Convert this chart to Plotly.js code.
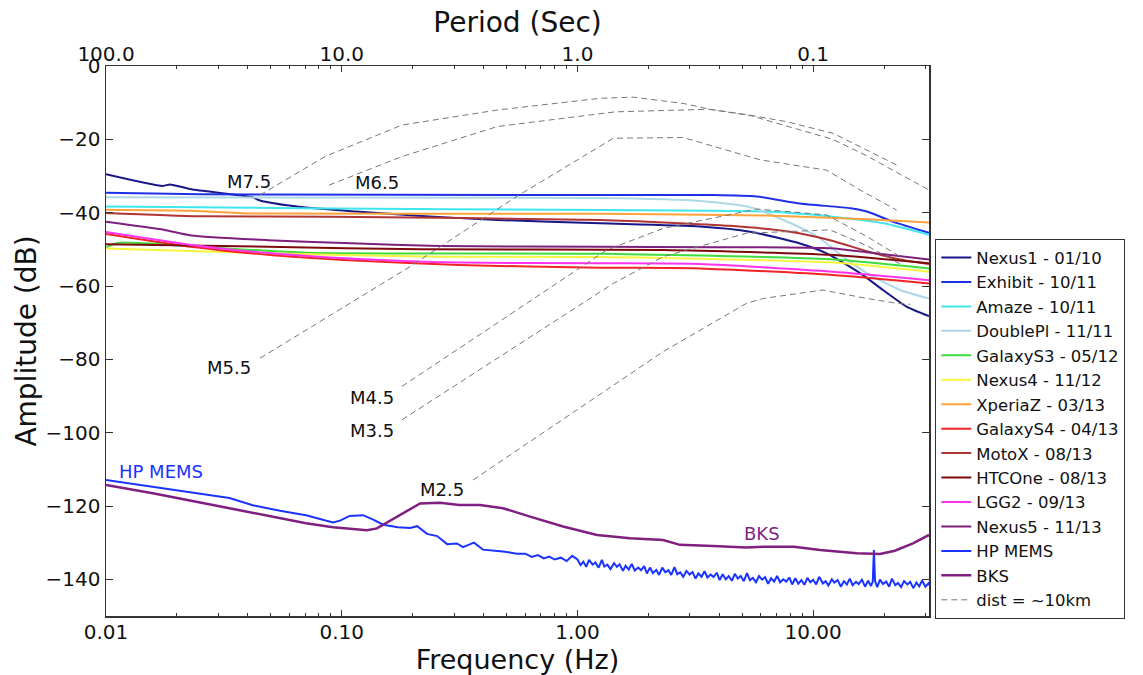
<!DOCTYPE html>
<html>
<head>
<meta charset="utf-8">
<script src="https://cdn.plot.ly/plotly-3.0.1.min.js"></script>
<style>html,body{margin:0;padding:0;background:#fff;}#chart{width:1143px;height:675px;}</style>
</head>
<body>
<div id="chart"></div>
<script>
// ---------------- data ----------------
const freqTicks = [0.01, 0.1, 1, 10];
const freqTickLabels = ['0.01', '0.10', '1.00', '10.00'];
const periodTicks = [100, 10, 1, 0.1];
const periodTickLabels = ['100.0', '10.0', '1.0', '0.1'];
const ampTicks = [0, -20, -40, -60, -80, -100, -120, -140];

const nexus1Freq = [0.01, 0.0174, 0.0187, 0.0230, 0.0419, 0.0450, 0.0656, 0.115, 0.217, 0.458, 1.25, 3.31, 5.40, 8.79, 11.4, 15.8, 19.8, 24.9, 31.0];
const nexus1Db   = [-29.5, -32.7, -32.3, -33.6, -35.8, -36.7, -38.4, -39.7, -40.9, -42.0, -42.9, -43.8, -45.2, -48.4, -51.1, -56.5, -61.1, -65.6, -68.2];

const exhibitFreq = [0.01, 0.0251, 1.25, 3.76, 5.77, 8.79, 14.4, 16.9, 21.9, 31.0];
const exhibitDb   = [-34.6, -35.0, -35.2, -35.2, -35.6, -37.5, -38.8, -39.7, -42.5, -45.5];

const amazeFreq = [0.01, 0.0665, 1.25, 6.36, 12.1, 19.9, 31.0];
const amazeDb   = [-38.3, -38.8, -39.3, -39.7, -41.1, -42.9, -46.0];

const doublePlFreq = [0.01, 1.25, 3.31, 5.40, 7.48, 10.4, 13.4, 16.9, 23.4, 31.0];
const doublePlDb   = [-35.8, -36.0, -36.8, -38.5, -42.0, -46.5, -52.0, -56.5, -61.1, -63.4];

const galaxyS3Freq = [0.01, 0.0113, 0.0248, 0.0706, 1.25, 11.8, 31.0];
const galaxyS3Db   = [-49.5, -48.2, -49.3, -50.9, -51.2, -52.7, -55.2];

const nexus4Freq = [0.01, 0.0486, 0.261, 1.25, 12.1, 31.0];
const nexus4Db   = [-49.8, -51.1, -52.0, -52.1, -53.6, -56.1];

const xperiaZFreq = [0.01, 0.0230, 0.0419, 1.25, 6.36, 16.9, 31.0];
const xperiaZDb   = [-39.2, -39.5, -40.2, -40.3, -40.8, -41.8, -42.7];

const galaxyS4Freq = [0.01, 0.0230, 0.0486, 0.102, 0.315, 1.25, 3.31, 12.1, 31.0];
const galaxyS4Db   = [-45.8, -49.3, -51.5, -52.9, -54.3, -55.0, -55.2, -57.0, -59.3];

const motoXFreq = [0.01, 0.0248, 0.0892, 1.25, 4.44, 7.98, 11.8, 16.9, 23.4, 31.0];
const motoXDb   = [-40.1, -41.0, -41.1, -42.0, -43.6, -45.2, -47.5, -50.5, -52.8, -54.0];

const htcOneFreq = [0.01, 0.0486, 0.217, 2.31, 11.8, 31.0];
const htcOneDb   = [-48.6, -49.3, -50.0, -50.2, -51.5, -53.8];

const lgg2Freq = [0.01, 0.0230, 0.0486, 0.102, 0.315, 1.25, 3.31, 12.1, 31.0];
const lgg2Db   = [-45.3, -48.8, -51.0, -52.4, -53.6, -53.8, -54.0, -56.1, -58.4];

const nexus5Freq = [0.01, 0.0177, 0.0230, 0.0486, 0.102, 0.261, 1.25, 11.8, 16.9, 31.0];
const nexus5Db   = [-42.5, -44.7, -46.2, -47.5, -48.3, -49.1, -49.3, -49.7, -50.8, -52.8];

const hpMemsFreq = [0.01, 0.0158, 0.0251, 0.0334, 0.0419, 0.0547, 0.0706, 0.0918, 0.0984, 0.108, 0.123, 0.136, 0.150, 0.173, 0.195, 0.209, 0.230, 0.254, 0.280, 0.308, 0.327, 0.350, 0.364, 0.397, 0.483, 0.554,
  0.60, 0.64, 0.68, 0.72, 0.76, 0.80, 0.85, 0.90, 0.95,
  1.00, 1.03, 1.06, 1.09, 1.12, 1.16, 1.19, 1.23, 1.27, 1.30, 1.34, 1.38, 1.43, 1.47, 1.51, 1.56, 1.60, 1.65, 1.70, 1.75, 1.81, 1.86, 1.92, 1.97,
  2.03, 2.09, 2.16, 2.22, 2.29, 2.36, 2.43, 2.50, 2.58, 2.65, 2.73, 2.81, 2.90, 2.99, 3.08, 3.17, 3.26, 3.36, 3.46, 3.56, 3.67, 3.78, 3.90,
  4.01, 4.13, 4.26, 4.38, 4.52, 4.65, 4.79, 4.93, 5.08, 5.24, 5.39, 5.55, 5.72, 5.89, 6.07, 6.25, 6.44, 6.63, 6.83, 7.03, 7.24, 7.46, 7.69, 7.92,
  8.15, 8.40, 8.65, 8.91, 9.18, 9.45, 9.73, 10.0, 10.3, 10.6, 11.0, 11.3, 11.6, 12.0, 12.3, 12.7, 13.1, 13.5, 13.9, 14.3, 14.7, 15.2, 15.6, 16.1, 16.6,
  17.1, 17.6, 17.9, 18.1, 18.3, 18.7, 19.2, 19.8, 20.4, 21.0, 21.6, 22.3, 22.9, 23.6, 24.3, 25.1, 25.8, 26.6, 27.4, 28.2, 29.0, 29.9, 30.8, 31.0];
const hpMemsDb = [-112.9, -114.7, -116.5, -117.8, -119.8, -121.3, -122.5, -124.5, -124.0, -122.7, -122.5, -123.7, -125.1, -125.8, -126.0, -125.5, -127.6, -128.2, -130.4, -130.2, -131.2, -130.5, -130.0, -131.9, -132.4, -133.0,
  -133.0, -133.9, -133.4, -134.3, -133.8, -134.6, -134.1, -135.0, -133.6,
  -134.6, -136.1, -135.2, -136.6, -134.7, -136.0, -135.4, -136.8, -134.7, -136.5, -136.0, -137.2, -135.6, -136.6, -135.9, -137.7, -136.3, -137.3, -135.8, -137.6, -136.8, -137.5, -136.4, -138.4,
  -136.8, -138.3, -137.4, -138.8, -136.8, -138.1, -137.5, -138.8, -136.7, -138.6, -138.1, -139.3, -137.7, -138.7, -138.0, -139.8, -138.4, -139.3, -137.8, -139.5, -138.7, -139.4, -138.2,
  -140.2, -138.6, -140.0, -139.1, -140.4, -138.5, -139.8, -139.1, -140.5, -138.3, -140.2, -139.6, -140.8, -139.1, -140.1, -139.4, -141.2, -139.7, -140.6, -139.1, -140.8, -140.0, -140.6, -139.5,
  -141.4, -139.7, -141.2, -140.2, -141.5, -139.6, -140.8, -140.1, -141.4, -139.3, -141.1, -140.5, -141.7, -140.0, -140.9, -140.2, -142.0, -140.5, -141.4, -139.8, -141.6, -140.7, -141.3, -140.1, -142.0,
  -140.4, -141.8, -140.6, -132.0, -140.5, -142.1, -140.1, -141.3, -140.6, -142.0, -139.8, -141.6, -141.0, -142.1, -140.5, -141.4, -140.7, -142.4, -140.9, -141.9, -140.3, -142.0, -141.1, -141.6];

const bksFreq = [0.01, 0.0158, 0.0334, 0.0706, 0.0918, 0.128, 0.141, 0.173, 0.215, 0.261, 0.315, 0.386, 0.483, 0.630, 0.869, 1.21, 1.67, 2.31, 2.72, 3.76, 5.19, 6.14, 8.30, 10.7, 15.3, 19.2, 22.2, 26.5, 31.0];
const bksDb   = [-114.3, -116.5, -120.6, -124.7, -125.8, -126.6, -126.1, -122.9, -119.3, -119.1, -119.7, -119.7, -120.6, -122.9, -125.6, -127.9, -128.8, -129.3, -130.6, -130.9, -131.3, -131.1, -131.1, -132.0, -132.9, -133.1, -132.2, -130.2, -127.9];

// magnitude curves at ~10 km distance (dashed)
const m75Freq = [0.0450, 0.0849, 0.180, 0.458, 1.25, 1.72, 2.81, 3.65, 5.40, 7.73, 12.2, 16.9, 22.6];
const m75Db   = [-35.2, -24.7, -16.1, -12.0, -8.8, -8.5, -10.2, -11.8, -13.4, -15.2, -18.4, -22.9, -27.0];
const m65Freq = [0.0883, 0.180, 0.458, 1.25, 1.45, 3.61, 5.40, 12.1, 16.9, 22.6, 31.0];
const m65Db   = [-32.5, -24.7, -16.5, -12.9, -12.5, -11.8, -13.5, -20.0, -24.5, -29.0, -33.8];
const m55Freq = [0.0450, 0.195, 0.552, 1.42, 2.81, 5.96, 11.4, 15.8, 22.6];
const m55Db   = [-79.7, -54.7, -35.6, -19.7, -19.5, -25.6, -28.4, -33.8, -39.3];
const m45Freq = [0.180, 1.33, 2.31, 5.77, 11.4, 16.9, 23.4];
const m45Db   = [-87.4, -50.2, -44.3, -39.0, -40.6, -46.5, -52.0];
const m35Freq = [0.180, 1.42, 2.31, 5.22, 11.8, 16.9, 23.4];
const m35Db   = [-96.5, -59.3, -52.0, -45.6, -44.7, -49.0, -54.0];
const m25Freq = [0.361, 2.31, 5.22, 6.14, 11.0, 16.9, 22.6, 25.8];
const m25Db   = [-112.9, -77.9, -64.7, -63.4, -61.1, -63.4, -64.7, -65.0];

const labelTexts = ['M7.5', 'M6.5', 'M5.5', 'M4.5', 'M3.5', 'M2.5', 'HP MEMS', 'BKS'];
const labelFreqs = [0.0404, 0.141, 0.0334, 0.134, 0.134, 0.267, 0.0171, 6.05];
const labelDbs   = [-31.5, -31.8, -82.2, -90.4, -99.4, -115.6, -110.6, -127.4];

// ---------------- traces ----------------
const FONT = 'DejaVu Sans, Verdana, sans-serif';
const phones = [
  ['Nexus1 - 01/10', nexus1Freq, nexus1Db, '#17178a'],
  ['Exhibit - 10/11', exhibitFreq, exhibitDb, '#1f2fe6'],
  ['Amaze - 10/11', amazeFreq, amazeDb, '#3ee6ee'],
  ['DoublePl - 11/11', doublePlFreq, doublePlDb, '#add8e6'],
  ['GalaxyS3 - 05/12', galaxyS3Freq, galaxyS3Db, '#3ddc3d'],
  ['Nexus4 - 11/12', nexus4Freq, nexus4Db, '#f5f53d'],
  ['XperiaZ - 03/13', xperiaZFreq, xperiaZDb, '#ffa23a'],
  ['GalaxyS4 - 04/13', galaxyS4Freq, galaxyS4Db, '#f02424'],
  ['MotoX - 08/13', motoXFreq, motoXDb, '#b03434'],
  ['HTCOne - 08/13', htcOneFreq, htcOneDb, '#7d0b0b'],
  ['LGG2 - 09/13', lgg2Freq, lgg2Db, '#ff33ee'],
  ['Nexus5 - 11/13', nexus5Freq, nexus5Db, '#7d1f7d']
];
const traces = phones.map(p => ({
  type: 'scatter', mode: 'lines', name: p[0], x: p[1], y: p[2],
  line: {color: p[3], width: 2, shape: 'spline', smoothing: 0.6}, hoverinfo: 'skip'
}));
traces.push({type: 'scatter', mode: 'lines', name: 'HP MEMS', x: hpMemsFreq, y: hpMemsDb,
  line: {color: '#1a33ff', width: 2}, hoverinfo: 'skip'});
traces.push({type: 'scatter', mode: 'lines', name: 'BKS', x: bksFreq, y: bksDb,
  line: {color: '#7f1f7f', width: 2.5}, hoverinfo: 'skip'});
const dashed = [[m75Freq, m75Db], [m65Freq, m65Db], [m55Freq, m55Db], [m45Freq, m45Db], [m35Freq, m35Db], [m25Freq, m25Db]];
dashed.forEach((d, i) => traces.push({
  type: 'scatter', mode: 'lines', name: 'dist = ~10km', legendgroup: 'dist', showlegend: i === 0,
  x: d[0], y: d[1], line: {color: '#777777', width: 1, dash: '6px,4px'}, hoverinfo: 'skip'
}));
// empty trace so that the top (period) axis is drawn
traces.push({type: 'scatter', mode: 'lines', x: [], y: [], xaxis: 'x2', yaxis: 'y', showlegend: false, hoverinfo: 'skip'});

const labelColors = ['#111', '#111', '#111', '#111', '#111', '#111', '#1a33ff', '#7f1f7f'];
const annotations = labelTexts.map((t, i) => ({
  text: t, x: Math.log10(labelFreqs[i]), y: labelDbs[i], xref: 'x', yref: 'y',
  showarrow: false, xanchor: 'center', yanchor: 'middle',
  font: {family: FONT, size: 18, color: labelColors[i]}
}));

const xRange = [Math.log10(0.01), Math.log10(31)];
const axisCommon = {
  showgrid: false, zeroline: false, showline: true, linecolor: '#333', linewidth: 1.5,
  ticks: 'inside', tickcolor: '#333', tickwidth: 1, ticklen: 6,
  tickfont: {family: FONT, size: 20, color: '#111'}
};
const minorTicks = [0.02,0.03,0.04,0.05,0.06,0.07,0.08,0.09,0.2,0.3,0.4,0.5,0.6,0.7,0.8,0.9,2,3,4,5,6,7,8,9,20,30];

const layout = {
  width: 1143, height: 675,
  margin: {l: 106, r: 214, t: 66, b: 59},
  paper_bgcolor: '#fff', plot_bgcolor: '#fff',
  font: {family: FONT, color: '#111'},
  showlegend: true,
  xaxis: Object.assign({}, axisCommon, {
    type: 'log', range: xRange, tickmode: 'array', tickvals: freqTicks, ticktext: freqTickLabels,
    ticklabelstandoff: -3,
    minor: {tickmode: 'array', tickvals: minorTicks, ticks: 'inside', ticklen: 3, tickcolor: '#333', showgrid: false},
    title: {text: 'Frequency (Hz)', font: {family: FONT, size: 27, color: '#111'}, standoff: 11}
  }),
  xaxis2: Object.assign({}, axisCommon, {
    type: 'log', range: xRange, overlaying: 'x', side: 'top', anchor: 'y',
    tickmode: 'array', tickvals: periodTicks.map(p => 1 / p), ticktext: periodTickLabels,
    ticklabelstandoff: -4,
    minor: {tickmode: 'array', tickvals: minorTicks, ticks: 'inside', ticklen: 3, tickcolor: '#333', showgrid: false},
    title: {text: 'Period (Sec)', font: {family: FONT, size: 28, color: '#111'}, standoff: 0}
  }),
  yaxis: Object.assign({}, axisCommon, {
    range: [-150, 0], tickmode: 'array', tickvals: ampTicks, mirror: 'ticks', ticklen: 7,
    title: {text: 'Amplitude (dB)', font: {family: FONT, size: 28, color: '#111'}, standoff: 1}
  }),
  legend: {
    x: 1.0073, y: 0.6855, xanchor: 'left', yanchor: 'top',
    bgcolor: '#fff', bordercolor: '#333', borderwidth: 1.3,
    font: {family: FONT, size: 16.5, color: '#111'}, tracegroupgap: 0
  },
  annotations: annotations
};

Plotly.newPlot('chart', traces, layout, {staticPlot: true, displayModeBar: false});
</script>
</body>
</html>
